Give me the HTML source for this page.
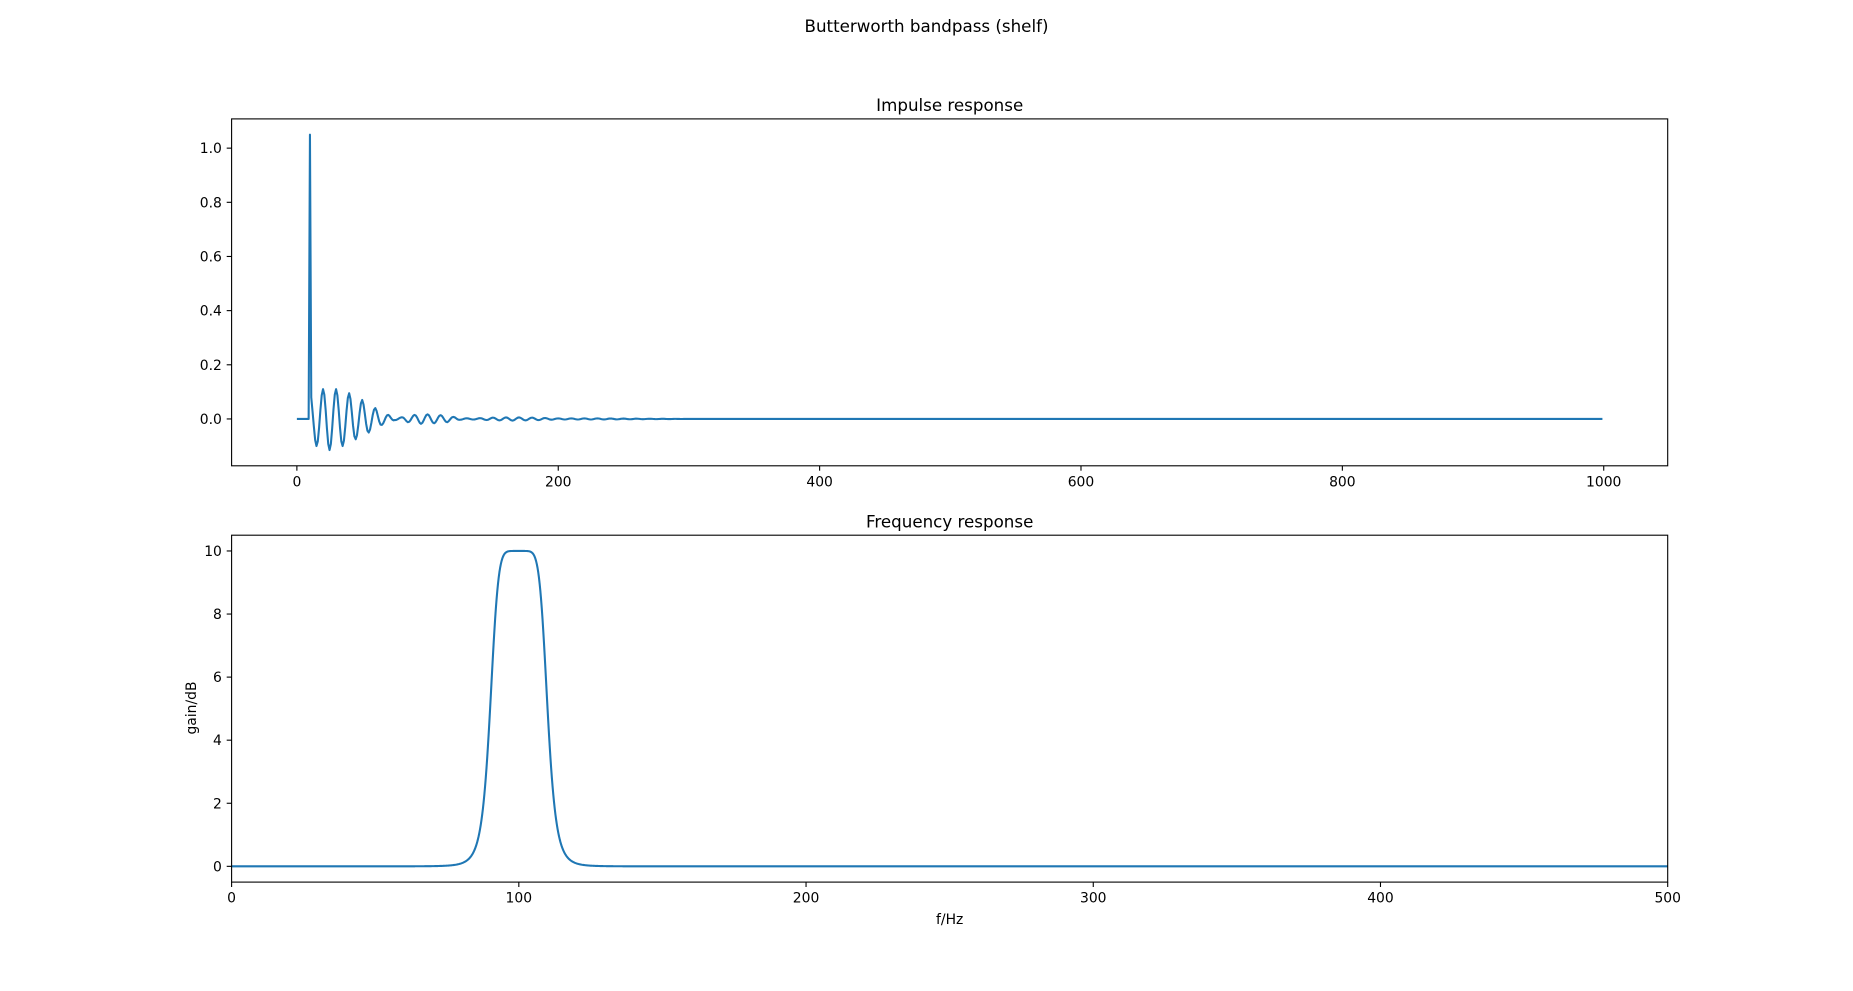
<!DOCTYPE html>
<html><head><meta charset="utf-8"><style>
html,body{margin:0;padding:0;background:#fff;}
svg{display:block;font-family:"DejaVu Sans","Liberation Sans",sans-serif;}
</style></head><body>
<svg id="s" width="1853" height="991" viewBox="0 0 1853 991" xmlns="http://www.w3.org/2000/svg">
<rect width="1853" height="991" fill="#fff"/>
<text x="926.5" y="32" font-size="16.7" text-anchor="middle">Butterworth bandpass (shelf)</text>
<text x="949.7" y="111" font-size="16.7" text-anchor="middle">Impulse response</text>
<text x="949.7" y="527.5" font-size="16.7" text-anchor="middle">Frequency response</text>
<text x="949.7" y="924" font-size="13.9" text-anchor="middle">f/Hz</text>
<text transform="translate(196,708) rotate(-90)" font-size="13.9" text-anchor="middle">gain/dB</text>
<g id="g"></g>
</svg>
<script>
var NS="http://www.w3.org/2000/svg",g=document.getElementById('g');
function el(t,a,txt){var e=document.createElementNS(NS,t);for(var k in a)e.setAttribute(k,a[k]);if(txt!==undefined)e.textContent=txt;g.appendChild(e);return e;}
var L=231.6,R=1667.7;
function axes(T,B,x0,x1,y0,y1,xt,yt,xf,yf,pts){
  var sx=function(v){return L+(v-x0)/(x1-x0)*(R-L)};
  var sy=function(v){return B-(v-y0)/(y1-y0)*(B-T)};
  var p=pts.map(function(q){return sx(q[0]).toFixed(2)+","+sy(q[1]).toFixed(2)}).join(" ");
  el('clipPath',{id:'c'+T}).appendChild((function(){var r=document.createElementNS(NS,'rect');r.setAttribute('x',L);r.setAttribute('y',T);r.setAttribute('width',R-L);r.setAttribute('height',B-T);return r})());
  el('polyline',{points:p,fill:'none',stroke:'#1f77b4','stroke-width':2.08,'stroke-linejoin':'round','clip-path':'url(#c'+T+')'});
  el('rect',{x:L,y:T,width:R-L,height:B-T,fill:'none',stroke:'#000','stroke-width':1.1});
  xt.forEach(function(v){var x=sx(v);el('line',{x1:x,x2:x,y1:B,y2:B+4.9,stroke:'#000','stroke-width':1.1});
    el('text',{x:x,y:B+20.5,'font-size':13.9,'text-anchor':'middle'},xf(v));});
  yt.forEach(function(v){var y=sy(v);el('line',{x1:L,x2:L-4.9,y1:y,y2:y,stroke:'#000','stroke-width':1.1});
    el('text',{x:L-9.7,y:y+5,'font-size':13.9,'text-anchor':'end'},yf(v));});
}
// impulse
var env=[[10,0.08],[15,0.1],[20,0.11],[25,0.115],[30,0.11],[35,0.1],[40,0.095],[45,0.075],[50,0.07],[55,0.05],[60,0.04],[65,0.022],[70,0.015],[75,0.004],[80,0.006],[85,0.012],[95,0.018],[105,0.016],[115,0.012],[125,0.003],[135,0.002],[150,0.005],[165,0.006],[180,0.005],[200,0.002],[230,0.002],[260,0.001],[300,0],[1000,0]];
function E(n){for(var i=0;i<env.length-1;i++){if(n>=env[i][0]&&n<=env[i+1][0]){var t=(n-env[i][0])/(env[i+1][0]-env[i][0]);return env[i][1]+t*(env[i+1][1]-env[i][1]);}}return 0;}
var ip=[];
for(var n=0;n<1000;n++){var y;
 if(n<10)y=0;else if(n==10)y=1.05;else if(n==11)y=0.08;else y=E(n)*Math.cos(2*Math.PI*(n-20)/10);
 ip.push([n,y]);}
axes(118.9,465.8,-49.95,1048.95,-0.173,1.108,[0,200,400,600,800,1000],[0,0.2,0.4,0.6,0.8,1.0],
 function(v){return String(v)},function(v){return v.toFixed(1)},ip);
// frequency
var fp=[];
for(var f=0;f<=500;f+=0.25){var d=Math.abs(f-100)/10;fp.push([f,10/(1+Math.pow(d,6.7))]);}
axes(535.2,882.1,0,500,-0.5,10.5,[0,100,200,300,400,500],[0,2,4,6,8,10],
 function(v){return String(v)},function(v){return String(v)},fp);
</script>
</body></html>
